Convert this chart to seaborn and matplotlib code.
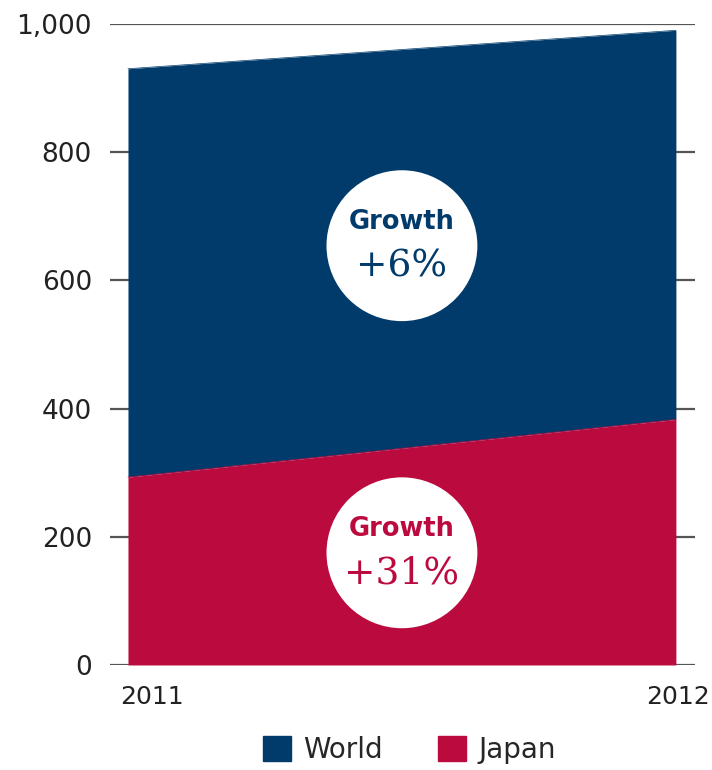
import matplotlib
matplotlib.use("Agg")
import matplotlib.pyplot as plt
import matplotlib.transforms as mtransforms
import seaborn as sns
import pandas as pd
from matplotlib.patches import Patch

years = [2011, 2012]
world = [930, 990]
japan = [293, 383]
growth_labels = ["+6%", "+31%"]
y_ticks = [0, 200, 400, 600, 800, 1000]
y_tick_labels = ["0", "200", "400", "600", "800", "1,000"]

BLUE = "#003B6B"
RED = "#BB0A3E"
GRID = "#555555"
TEXT = "#222222"

sns.set_theme(style="white")
plt.rcParams["font.family"] = ["DejaVu Sans"]

df = pd.DataFrame({"year": years, "World": world, "Japan": japan})

fig = plt.figure(figsize=(7.12, 7.70), dpi=100)
ax = fig.add_axes([0.1545, 0.1364, 0.976 - 0.1545, 0.969 - 0.1364])

# stacked areas: world total on top, Japan share below
ax.fill_between(df["year"], df["Japan"], df["World"], color=BLUE, lw=0, zorder=2)
ax.fill_between(df["year"], 0, df["Japan"], color=RED, lw=0, zorder=2)
sns.lineplot(data=df, x="year", y="World", ax=ax, color=BLUE, lw=0.5, zorder=3)
sns.lineplot(data=df, x="year", y="Japan", ax=ax, color=RED, lw=0.5, zorder=3)

span = years[1] - years[0]
ax.set_xlim(years[0] - 0.0328 * span, years[1] + 0.0347 * span)
ax.set_ylim(0, 1000)

ax.set_yticks(y_ticks)
ax.set_yticklabels(y_tick_labels, fontsize=19, color=TEXT)
ax.set_xticks([])
ax.tick_params(axis="y", length=0, pad=13)
ax.set_xlabel("")
ax.set_ylabel("")

# year labels: first one left-aligned, last one right-aligned
trans = mtransforms.blended_transform_factory(ax.transData, ax.transAxes)
ax.text(years[0], -0.05, str(years[0]), ha="left", va="center", fontsize=18,
        color=TEXT, transform=trans + mtransforms.ScaledTranslation(-0.08, 0, fig.dpi_scale_trans))
ax.text(years[1], -0.05, str(years[1]), ha="right", va="center", fontsize=18,
        color=TEXT, transform=trans + mtransforms.ScaledTranslation(0.34, 0, fig.dpi_scale_trans))

ax.yaxis.grid(True, color=GRID, lw=1.6, zorder=1)
ax.set_axisbelow(True)
for s in ax.spines.values():
    s.set_visible(False)

# growth badges
mid = (years[0] + years[1]) / 2
badge_y = [654, 175]
badge_col = [BLUE, RED]
for yc, lab, col in zip(badge_y, growth_labels, badge_col):
    ax.scatter([mid], [yc], s=11800, color="white", edgecolor="none", zorder=4)
    ax.text(mid, yc + 37, "Growth", ha="center", va="center", fontsize=18.5,
            fontweight="bold", color=col, zorder=5)
    ax.text(mid, yc - 32, lab, ha="center", va="center", fontsize=27,
            family="DejaVu Serif", color=col, zorder=5)

handles = [Patch(color=BLUE, label="World"), Patch(color=RED, label="Japan")]
fig.legend(handles=handles, loc="center", bbox_to_anchor=(0.575, 0.026), ncol=2,
           frameon=False, fontsize=20, handlelength=1.0, handleheight=1.0,
           columnspacing=2.0, handletextpad=0.45)

fig.savefig("out.png", dpi=100)
